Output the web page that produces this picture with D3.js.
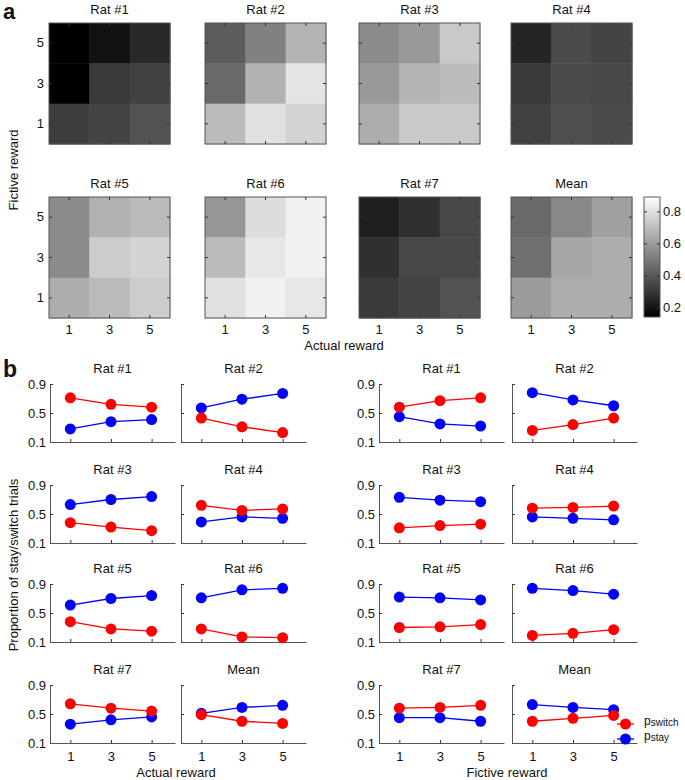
<!DOCTYPE html>
<html lang="en">
<head>
<meta charset="UTF-8">
<title>Stay/switch</title>
<script src="https://cdn.jsdelivr.net/npm/d3@7"></script>
<style>
  body { margin: 0; background: #fff; }
  svg text { font-family: "Liberation Sans", Arial, sans-serif; fill: #111; }
  .tick line { stroke: #333; }
  .tick text { font-size: 13px; }
</style>
</head>
<body>
<script>
// ---- data ----
var panelTitles = ["Rat #1", "Rat #2", "Rat #3", "Rat #4", "Rat #5", "Rat #6", "Rat #7", "Mean"];
var rewardLevels = [1, 3, 5];
var fictiveRows = [5, 3, 1];
var cbTicks = [0.2, 0.4, 0.6, 0.8];
var propTicks = [0.1, 0.5, 0.9];

// heatmap values, rows = fictive 5,3,1 ; cols = actual 1,3,5
var heatRat1 = [[0.14, 0.19, 0.26], [0.14, 0.31, 0.33], [0.32, 0.34, 0.38]];
var heatRat2 = [[0.41, 0.52, 0.67], [0.45, 0.66, 0.81], [0.69, 0.80, 0.76]];
var heatRat3 = [[0.55, 0.59, 0.73], [0.59, 0.67, 0.69], [0.65, 0.73, 0.73]];
var heatRat4 = [[0.25, 0.36, 0.34], [0.31, 0.36, 0.35], [0.33, 0.37, 0.36]];
var heatRat5 = [[0.55, 0.66, 0.69], [0.55, 0.74, 0.76], [0.65, 0.69, 0.74]];
var heatRat6 = [[0.58, 0.79, 0.85], [0.69, 0.82, 0.85], [0.80, 0.85, 0.82]];
var heatRat7 = [[0.23, 0.28, 0.35], [0.28, 0.35, 0.35], [0.31, 0.34, 0.38]];
var heatMean = [[0.45, 0.54, 0.61], [0.47, 0.63, 0.65], [0.60, 0.65, 0.65]];
var heatData = [heatRat1, heatRat2, heatRat3, heatRat4, heatRat5, heatRat6, heatRat7, heatMean];

// p_switch / p_stay vs actual reward
var actualSwitch = [[0.71, 0.62, 0.58], [0.43, 0.31, 0.23], [0.38, 0.32, 0.27], [0.62, 0.55, 0.57],
                    [0.38, 0.28, 0.25], [0.28, 0.17, 0.16], [0.64, 0.58, 0.54], [0.49, 0.40, 0.37]];
var actualStay   = [[0.28, 0.38, 0.41], [0.57, 0.69, 0.77], [0.63, 0.70, 0.74], [0.39, 0.46, 0.44],
                    [0.61, 0.70, 0.74], [0.71, 0.82, 0.84], [0.36, 0.42, 0.46], [0.51, 0.59, 0.62]];
// p_switch / p_stay vs fictive reward
var fictiveSwitch = [[0.58, 0.67, 0.71], [0.26, 0.34, 0.43], [0.31, 0.34, 0.36], [0.58, 0.59, 0.61],
                     [0.30, 0.31, 0.34], [0.19, 0.22, 0.27], [0.58, 0.59, 0.62], [0.40, 0.44, 0.48]];
var fictiveStay   = [[0.45, 0.35, 0.32], [0.78, 0.68, 0.60], [0.73, 0.69, 0.67], [0.46, 0.44, 0.42],
                     [0.72, 0.71, 0.68], [0.84, 0.81, 0.76], [0.45, 0.45, 0.40], [0.63, 0.59, 0.56]];
var meanErr = 0.025;

// ---- layout ----
var svg = d3.select("body").append("svg").attr("width", 685).attr("height", 780);

var heatX = [49, 205, 359, 511], heatY = [23, 197], heatSize = 121;
var color = d3.scaleLinear().domain([0.14, 0.89]).range(["#000", "#fff"]).clamp(true);

svg.append("text").attr("x", 3).attr("y", 19).style("font-size", "22px").style("font-weight", "bold").text("a");
svg.append("text").attr("x", 3).attr("y", 377).style("font-size", "23px").style("font-weight", "bold").text("b");

heatData.forEach(function (m, i) {
  var x0 = heatX[i % 4], y0 = heatY[Math.floor(i / 4)];
  var xs = d3.scaleBand().domain(rewardLevels).range([x0, x0 + heatSize]);
  var ys = d3.scaleBand().domain(fictiveRows).range([y0, y0 + heatSize]);
  var g = svg.append("g");
  fictiveRows.forEach(function (r, ri) {
    rewardLevels.forEach(function (c, ci) {
      g.append("rect")
        .attr("x", xs(c)).attr("y", ys(r))
        .attr("width", xs.bandwidth() + 0.5).attr("height", ys.bandwidth() + 0.5)
        .attr("fill", color(m[ri][ci]));
    });
  });
  g.append("rect").attr("x", x0).attr("y", y0).attr("width", heatSize).attr("height", heatSize)
    .attr("fill", "none").attr("stroke", "#555");
  // box ticks, MATLAB-like inward
  var showY = (i % 4 === 0), showX = (i >= 4);
  g.append("g").attr("transform", "translate(" + x0 + ",0)")
    .call(d3.axisLeft(ys).tickSizeInner(-3).tickSizeOuter(0).tickFormat(showY ? null : ""))
    .call(function (a) { a.select(".domain").remove(); a.selectAll("text").attr("x", -5); });
  g.append("g").attr("transform", "translate(" + (x0 + heatSize) + ",0)")
    .call(d3.axisRight(ys).tickSizeInner(-3).tickSizeOuter(0).tickFormat(""))
    .call(function (a) { a.select(".domain").remove(); });
  g.append("g").attr("transform", "translate(0," + (y0 + heatSize) + ")")
    .call(d3.axisBottom(xs).tickSizeInner(-3).tickSizeOuter(0).tickFormat(showX ? null : ""))
    .call(function (a) { a.select(".domain").remove(); a.selectAll("text").attr("y", 7); });
  g.append("g").attr("transform", "translate(0," + y0 + ")")
    .call(d3.axisTop(xs).tickSizeInner(-3).tickSizeOuter(0).tickFormat(""))
    .call(function (a) { a.select(".domain").remove(); });
  g.append("text").attr("x", x0 + heatSize / 2).attr("y", y0 - 9)
    .attr("text-anchor", "middle").style("font-size", "13px").text(panelTitles[i]);
});

// colorbar
var cbX = 644, cbY = 197, cbW = 16, cbH = 120;
var cbScale = d3.scaleLinear().domain([0.14, 0.89]).range([cbY + cbH, cbY]);
var grad = svg.append("defs").append("linearGradient").attr("id", "cb")
  .attr("x1", 0).attr("y1", 1).attr("x2", 0).attr("y2", 0);
grad.append("stop").attr("offset", 0).attr("stop-color", "#000");
grad.append("stop").attr("offset", 1).attr("stop-color", "#fff");
svg.append("rect").attr("x", cbX).attr("y", cbY).attr("width", cbW).attr("height", cbH)
  .attr("fill", "url(#cb)").attr("stroke", "#555");
svg.append("g").attr("transform", "translate(" + (cbX + cbW) + ",0)")
  .call(d3.axisRight(cbScale).tickValues(cbTicks).tickSizeInner(-3).tickSizeOuter(0).tickFormat(d3.format(".1f")))
  .call(function (a) { a.select(".domain").remove(); a.selectAll("text").attr("x", 3); });
svg.append("g").attr("transform", "translate(" + cbX + ",0)")
  .call(d3.axisLeft(cbScale).tickValues(cbTicks).tickSizeInner(-3).tickSizeOuter(0).tickFormat(""))
  .call(function (a) { a.select(".domain").remove(); });

svg.append("text").attr("x", 344).attr("y", 350).attr("text-anchor", "middle")
  .style("font-size", "13px").text("Actual reward");
svg.append("text").attr("transform", "translate(18,170) rotate(-90)").attr("text-anchor", "middle")
  .style("font-size", "13px").text("Fictive reward");

// ---- line plots ----
var groupX = [[50, 181], [379, 512]];
var rowY = [384, 485, 584, 685], plotW = 125, plotH = 58;
var groups = [
  { sw: actualSwitch, st: actualStay, label: "Actual reward", cx: 176 },
  { sw: fictiveSwitch, st: fictiveStay, label: "Fictive reward", cx: 507 }
];

groups.forEach(function (grp, gi) {
  for (var i = 0; i < 8; i++) {
    var col = i % 2, row = Math.floor(i / 2);
    var x0 = groupX[gi][col], y0 = rowY[row];
    var x = d3.scaleLinear().domain([0, 6.15]).range([x0, x0 + plotW]);
    var y = d3.scaleLinear().domain([0.1, 0.9]).range([y0 + plotH, y0]);
    var g = svg.append("g");
    g.append("g").attr("transform", "translate(" + x0 + ",0)")
      .call(d3.axisLeft(y).tickValues(propTicks).tickSizeInner(-3).tickSizeOuter(0)
        .tickFormat(col === 0 ? d3.format(".1f") : ""))
      .call(function (a) { a.select(".domain").attr("stroke", "#555"); a.selectAll("text").attr("x", -4); });
    g.append("g").attr("transform", "translate(0," + (y0 + plotH) + ")")
      .call(d3.axisBottom(x).tickValues(rewardLevels).tickSizeInner(-3).tickSizeOuter(0)
        .tickFormat(row === 3 ? d3.format("d") : ""))
      .call(function (a) { a.select(".domain").attr("stroke", "#555"); a.selectAll("text").attr("y", 9); });
    g.append("text").attr("x", x0 + plotW / 2).attr("y", y0 - 11)
      .attr("text-anchor", "middle").style("font-size", "13px").text(panelTitles[i]);

    [[grp.st[i], "#0000ff"], [grp.sw[i], "#ff0000"]].forEach(function (s) {
      var pts = s[0].map(function (v, k) { return [rewardLevels[k], v]; });
      g.append("path").datum(pts)
        .attr("d", d3.line().x(function (d) { return x(d[0]); }).y(function (d) { return y(d[1]); }))
        .attr("fill", "none").attr("stroke", s[1]).attr("stroke-width", 1.3);
      if (i === 7) {
        g.selectAll(null).data(pts).enter().append("line")
          .attr("x1", function (d) { return x(d[0]); }).attr("x2", function (d) { return x(d[0]); })
          .attr("y1", function (d) { return y(d[1] - meanErr); }).attr("y2", function (d) { return y(d[1] + meanErr); })
          .attr("stroke", s[1]).attr("stroke-width", 1.3);
      }
      g.selectAll(null).data(pts).enter().append("circle")
        .attr("cx", function (d) { return x(d[0]); }).attr("cy", function (d) { return y(d[1]); })
        .attr("r", 5.5).attr("fill", s[1]);
    });
  }
  svg.append("text").attr("x", grp.cx).attr("y", 777).attr("text-anchor", "middle")
    .style("font-size", "13px").text(grp.label);
});

svg.append("text").attr("transform", "translate(18,565) rotate(-90)").attr("text-anchor", "middle")
  .style("font-size", "13px").text("Proportion of stay/switch trials");

// legend
var legend = [["switch", "#ff0000", 724], ["stay", "#0000ff", 739]];
legend.forEach(function (l) {
  svg.append("line").attr("x1", 617).attr("x2", 634).attr("y1", l[2]).attr("y2", l[2])
    .attr("stroke", l[1]).attr("stroke-width", 1.3);
  svg.append("circle").attr("cx", 625.5).attr("cy", l[2]).attr("r", 5.5).attr("fill", l[1]);
  var t = svg.append("text").attr("x", 644).attr("y", l[2] + 1).style("font-size", "12px");
  t.append("tspan").text("p");
  t.append("tspan").attr("dy", 1).style("font-size", "10px").text(l[0]);
});
</script>
</body>
</html>
